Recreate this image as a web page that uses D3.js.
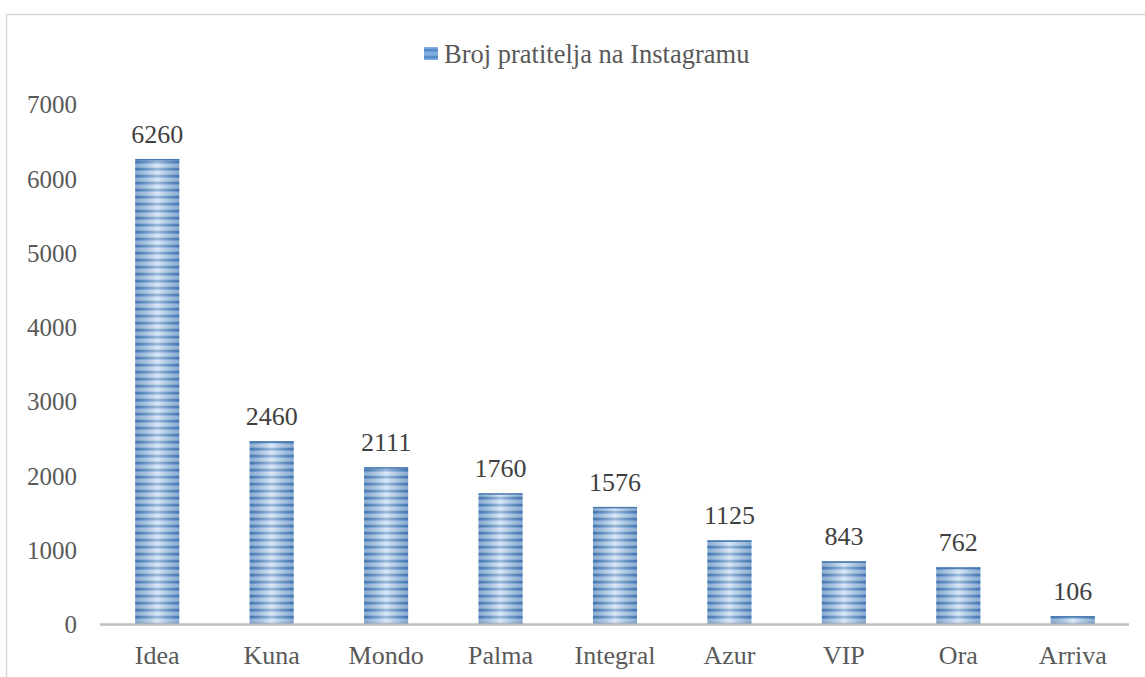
<!DOCTYPE html>
<html>
<head>
<meta charset="utf-8">
<script src="https://cdn.jsdelivr.net/npm/d3@7"></script>
<style>
  html, body { margin: 0; padding: 0; background: #ffffff; }
  svg { display: block; }
  text { font-family: "Liberation Serif", "Times New Roman", serif; }
</style>
</head>
<body>
<svg id="chart" width="1145" height="677"></svg>
<script>
const categories = ["Idea", "Kuna", "Mondo", "Palma", "Integral", "Azur", "VIP", "Ora", "Arriva"];
const values = [6260, 2460, 2111, 1760, 1576, 1125, 843, 762, 106];
const yTicks = [0, 1000, 2000, 3000, 4000, 5000, 6000, 7000];
const seriesName = "Broj pratitelja na Instagramu";

const svg = d3.select("#chart");
const W = 1145, H = 677;

// chart frame
svg.append("rect")
  .attr("x", 6.5).attr("y", 14.5)
  .attr("width", W + 20).attr("height", H + 20)
  .attr("fill", "#ffffff")
  .attr("stroke", "#d9d9d9").attr("stroke-width", 1.5);

const defs = svg.append("defs");
// horizontal stripe pattern
const pat = defs.append("pattern")
  .attr("id", "stripes")
  .attr("patternUnits", "userSpaceOnUse")
  .attr("width", 10).attr("height", 7);
pat.append("rect").attr("x", 0).attr("y", 0).attr("width", 10).attr("height", 7).attr("fill", "#bcd5ef");
pat.append("rect").attr("x", 0).attr("y", 0).attr("width", 10).attr("height", 2).attr("fill", "#4f83bf");
pat.append("rect").attr("x", 0).attr("y", 2).attr("width", 10).attr("height", 1).attr("fill", "#7eaadb");
pat.append("rect").attr("x", 0).attr("y", 6).attr("width", 10).attr("height", 1).attr("fill", "#9abde3");

const grad = defs.append("linearGradient")
  .attr("id", "shade").attr("x1", "0").attr("x2", "1").attr("y1", "0").attr("y2", "0");
grad.append("stop").attr("offset", "0%").attr("stop-color", "#2d5f96").attr("stop-opacity", 0.35);
grad.append("stop").attr("offset", "50%").attr("stop-color", "#ffffff").attr("stop-opacity", 0.45);
grad.append("stop").attr("offset", "100%").attr("stop-color", "#2d5f96").attr("stop-opacity", 0.35);

const x = d3.scaleBand()
  .domain(categories)
  .range([100, 1130])
  .paddingInner(0.615)
  .paddingOuter(0.3075);

const y = d3.scaleLinear().domain([0, 7000]).range([624, 104]);

const data = categories.map((c, i) => ({ cat: c, val: values[i] }));

// bars
const g = svg.append("g");
g.selectAll("rect.bar").data(data).enter().append("rect")
  .attr("class", "bar")
  .attr("x", d => x(d.cat)).attr("y", d => y(d.val))
  .attr("width", x.bandwidth()).attr("height", d => y(0) - y(d.val))
  .attr("fill", "url(#stripes)");
g.selectAll("rect.shade").data(data).enter().append("rect")
  .attr("class", "shade")
  .attr("x", d => x(d.cat)).attr("y", d => y(d.val))
  .attr("width", x.bandwidth()).attr("height", d => y(0) - y(d.val))
  .attr("fill", "url(#shade)");
g.selectAll("rect.cap").data(data).enter().append("rect")
  .attr("class", "cap")
  .attr("x", d => x(d.cat)).attr("y", d => y(d.val))
  .attr("width", x.bandwidth()).attr("height", 1.5)
  .attr("fill", "#4a7bb3");

// x axis line
svg.append("line")
  .attr("x1", 100).attr("x2", 1129)
  .attr("y1", y(0) + 0.5).attr("y2", y(0) + 0.5)
  .attr("stroke", "#bfbfbf").attr("stroke-width", 2.5);

// y axis labels
const yAxis = d3.axisLeft(y).tickValues(yTicks).tickSize(0).tickPadding(0).tickFormat(d3.format("d"));
const ya = svg.append("g").attr("transform", "translate(77,0)").call(yAxis);
ya.select(".domain").remove();
ya.selectAll("text")
  .attr("font-family", "Liberation Serif, Times New Roman, serif")
  .attr("font-size", 25).attr("fill", "#595959").attr("dy", "0.35em");

// x axis labels
const xAxis = d3.axisBottom(x).tickSize(0).tickPadding(0);
const xa = svg.append("g").attr("transform", "translate(0,646)").call(xAxis);
xa.select(".domain").remove();
xa.selectAll("text")
  .attr("font-family", "Liberation Serif, Times New Roman, serif")
  .attr("font-size", 26).attr("fill", "#595959").attr("dy", "0.71em");

// data labels
svg.append("g").selectAll("text").data(data).enter().append("text")
  .attr("x", d => x(d.cat) + x.bandwidth() / 2)
  .attr("y", d => y(d.val) - 16)
  .attr("text-anchor", "middle")
  .attr("font-size", 26).attr("fill", "#404040")
  .text(d => d.val);

// legend
const lg = svg.append("g");
lg.append("rect").attr("x", 424).attr("y", 47).attr("width", 14).attr("height", 13).attr("fill", "url(#stripes)");
lg.append("rect").attr("x", 424).attr("y", 47).attr("width", 14).attr("height", 13).attr("fill", "#5b93d3").attr("opacity", 0.6);
lg.append("text").attr("x", 444).attr("y", 63)
  .attr("font-size", 26.5).attr("fill", "#595959")
  .text(seriesName);
</script>
</body>
</html>
